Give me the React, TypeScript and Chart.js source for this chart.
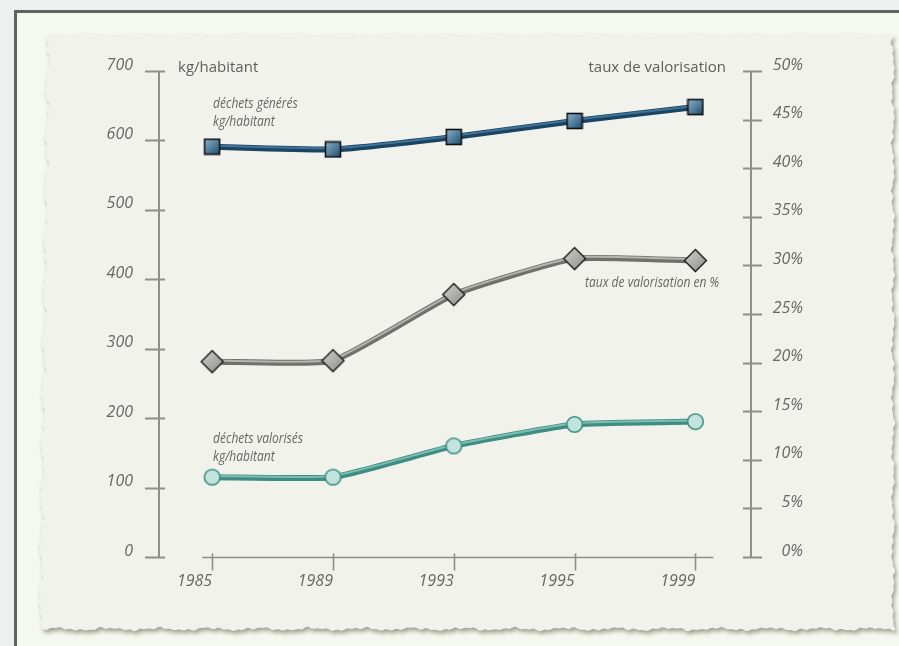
import React, { useEffect, useRef } from 'react';
import { Chart, registerables } from 'chart.js';

Chart.register(...registerables);

// ---- data ----
const years = ['1985', '1989', '1993', '1995', '1999'];
const generatedKg = [591, 587, 605, 628, 648];
const recoveredKg = [115, 115, 160, 191, 195];
const recoveryRate = [20.1, 20.2, 27.0, 30.7, 30.5];
const kgTicks = [0, 100, 200, 300, 400, 500, 600, 700];
const pctTicks = [0, 5, 10, 15, 20, 25, 30, 35, 40, 45, 50];

const leftTitle = 'kg/habitant';
const rightTitle = 'taux de valorisation';
const labelGenerated = ['déchets générés', 'kg/habitant'];
const labelRate = ['taux de valorisation en %'];
const labelRecovered = ['déchets valorisés', 'kg/habitant'];

const FONT = "'Open Sans', 'DejaVu Sans', sans-serif";
const TEXT = '#676765';
const AXIS = '#8e8e8a';

function makeSquare(): HTMLCanvasElement {
  const c = document.createElement('canvas');
  c.width = 18; c.height = 18;
  const g = c.getContext('2d')!;
  const gr = g.createLinearGradient(2, 2, 16, 16);
  gr.addColorStop(0, '#86b0cc');
  gr.addColorStop(1, '#23506f');
  g.fillStyle = gr;
  g.fillRect(1.5, 1.5, 15, 15);
  g.strokeStyle = '#121212';
  g.lineWidth = 1.6;
  g.strokeRect(1.5, 1.5, 15, 15);
  return c;
}

function makeDiamond(): HTMLCanvasElement {
  const c = document.createElement('canvas');
  c.width = 25; c.height = 25;
  const g = c.getContext('2d')!;
  const r = 11;
  const m = 12.5;
  g.beginPath();
  g.moveTo(m, m - r); g.lineTo(m + r, m); g.lineTo(m, m + r); g.lineTo(m - r, m); g.closePath();
  const gr = g.createLinearGradient(m - r, m - r, m + r, m + r);
  gr.addColorStop(0, '#d2d2ce');
  gr.addColorStop(1, '#8c8c88');
  g.fillStyle = gr;
  g.fill();
  g.strokeStyle = '#151515';
  g.lineWidth = 1.4;
  g.stroke();
  return c;
}

function makeCircle(): HTMLCanvasElement {
  const c = document.createElement('canvas');
  c.width = 19; c.height = 19;
  const g = c.getContext('2d')!;
  g.beginPath();
  g.arc(9.5, 9.5, 7.8, 0, Math.PI * 2);
  g.fillStyle = '#c3e3df';
  g.fill();
  g.strokeStyle = '#3a8e81';
  g.lineWidth = 1.6;
  g.stroke();
  return c;
}

function jag(i: number, a: number): number {
  return a * (0.45 * Math.sin(i * 0.37) + 0.3 * Math.sin(i * 1.91 + 1.2) + 0.2 * Math.sin(i * 5.37 + 0.4) + 0.15 * Math.sin(i * 11.3));
}

function paperPath(ctx: CanvasRenderingContext2D, dx: number, dy: number) {
  const L = 48, T = 35, R = 893, B = 629;
  ctx.beginPath();
  let k = 0;
  for (let x = L; x <= R; x += 3) { ctx.lineTo(x + dx, T + jag(k++, 2.2) + dy); }
  for (let y = T; y <= B; y += 3) { ctx.lineTo(R + jag(k++, 2.5) + dx, y + dy); }
  for (let x = R; x >= L - 8; x -= 3) { ctx.lineTo(x + dx, B + jag(k++, 2.5) + dy); }
  for (let y = B; y >= T; y -= 3) {
    const base = L - 8 * ((y - T) / (B - T));
    ctx.lineTo(base + jag(k++, 3) + dx, y + dy);
  }
  ctx.closePath();
}

const decor = {
  id: 'decor',
  beforeDraw(chart: any) {
    const ctx = chart.ctx as CanvasRenderingContext2D;
    ctx.save();
    ctx.fillStyle = '#eef0ef';
    ctx.fillRect(0, 0, chart.width, chart.height);
    ctx.fillStyle = '#f4f8ee';
    ctx.fillRect(15, 11, chart.width, chart.height);
    ctx.strokeStyle = '#5f625d';
    ctx.lineWidth = 3;
    ctx.beginPath();
    ctx.moveTo(15.5, chart.height + 5);
    ctx.lineTo(15.5, 11.5);
    ctx.lineTo(chart.width + 5, 11.5);
    ctx.stroke();
    // paper shadow
    ctx.filter = 'blur(2px)';
    ctx.fillStyle = 'rgba(125,122,105,0.7)';
    paperPath(ctx, 2, 3);
    ctx.fill();
    ctx.filter = 'none';
    ctx.fillStyle = '#f2f2ed';
    paperPath(ctx, 0, 0);
    ctx.fill();
    ctx.restore();
  },
  beforeDatasetsDraw(chart: any) {
    const ctx = chart.ctx as CanvasRenderingContext2D;
    const yl = chart.scales.yKg;
    const yr = chart.scales.yPct;
    const xs = chart.scales.x;
    const lx = yl.right;
    const rx = yr.left;
    const bottom = chart.chartArea.bottom;
    ctx.save();
    ctx.strokeStyle = AXIS;
    ctx.lineWidth = 2;
    ctx.beginPath();
    ctx.moveTo(lx, yl.getPixelForValue(kgTicks[kgTicks.length - 1]));
    ctx.lineTo(lx, yl.getPixelForValue(0));
    kgTicks.forEach((v) => {
      const y = Math.round(yl.getPixelForValue(v)) + 0.5;
      ctx.moveTo(lx - 14, y); ctx.lineTo(lx + 6, y);
    });
    ctx.moveTo(rx, yr.getPixelForValue(pctTicks[pctTicks.length - 1]));
    ctx.lineTo(rx, yr.getPixelForValue(0));
    pctTicks.forEach((v) => {
      const y = Math.round(yr.getPixelForValue(v)) + 0.5;
      ctx.moveTo(rx - 8, y); ctx.lineTo(rx + 11, y);
    });
    ctx.stroke();
    ctx.lineWidth = 1.6;
    ctx.beginPath();
    const by = Math.round(bottom) + 0.5;
    ctx.moveTo(xs.getPixelForValue(0) - 10, by);
    ctx.lineTo(xs.getPixelForValue(years.length - 1) + 18, by);
    years.forEach((_, i) => {
      const x = Math.round(xs.getPixelForValue(i)) + 0.5;
      ctx.moveTo(x, by - 4); ctx.lineTo(x, by + 13);
    });
    ctx.stroke();
    ctx.restore();
  },
  beforeDatasetDraw(chart: any, args: any) {
    const ds = chart.data.datasets[args.index];
    chart.ctx.save();
    if (ds.lift) chart.ctx.translate(0, -1.2);
  },
  afterDatasetDraw(chart: any) {
    chart.ctx.restore();
  },
  afterDraw(chart: any) {
    const ctx = chart.ctx as CanvasRenderingContext2D;
    ctx.save();
    ctx.fillStyle = '#5e5e5c';
    ctx.font = `15px ${FONT}`;
    ctx.textBaseline = 'alphabetic';
    ctx.textAlign = 'left';
    ctx.fillText(leftTitle, 178, 72);
    ctx.textAlign = 'right';
    ctx.fillText(rightTitle, 726, 72);
    ctx.fillStyle = TEXT;
    ctx.font = `italic 14px ${FONT}`;
    ctx.textAlign = 'left';
    const cond = (lines: string[], x: number, y: number, step: number) => {
      lines.forEach((t, i) => {
        ctx.save();
        ctx.translate(x, y + i * step);
        ctx.scale(0.86, 1);
        ctx.fillText(t, 0, 0);
        ctx.restore();
      });
    };
    cond(labelGenerated, 213, 108, 18);
    cond(labelRate, 585, 287, 18);
    cond(labelRecovered, 213, 443, 18);
    ctx.restore();
  },
};

export default function App() {
  const ref = useRef<HTMLCanvasElement | null>(null);
  useEffect(() => {
    if (!ref.current) return;
    const sq = makeSquare();
    const dm = makeDiamond();
    const ci = makeCircle();
    const pts = (arr: number[]) => arr.map((v, i) => ({ x: i, y: v }));
    const lineDs = (data: number[], axis: string, color: string, width: number, lift: boolean, order: number) => ({
      data: pts(data), yAxisID: axis, borderColor: color, borderWidth: width, pointRadius: 0,
      tension: 0.15, fill: false, lift, order, clip: false,
    });
    const pointDs = (data: number[], axis: string, img: HTMLCanvasElement, order: number) => ({
      data: pts(data), yAxisID: axis, showLine: false, pointStyle: img, pointRadius: 9, order, clip: false,
    });
    const tickFont = { family: FONT, size: 16, style: 'italic' };
    const chart = new Chart(ref.current, {
      type: 'line',
      data: {
        datasets: [
          lineDs(generatedKg, 'yKg', '#1a4462', 6, false, 9),
          lineDs(generatedKg, 'yKg', '#41739a', 2, true, 8),
          lineDs(recoveryRate, 'yPct', '#70706c', 6, false, 9),
          lineDs(recoveryRate, 'yPct', '#b4b4b0', 2, true, 8),
          lineDs(recoveredKg, 'yKg', '#3f8d81', 6, false, 9),
          lineDs(recoveredKg, 'yKg', '#7dbeb2', 2, true, 8),
          pointDs(generatedKg, 'yKg', sq, 1),
          pointDs(recoveryRate, 'yPct', dm, 1),
          pointDs(recoveredKg, 'yKg', ci, 1),
        ] as any,
      },
      options: {
        responsive: false,
        animation: false,
        events: [],
        layout: { padding: { top: 71, right: 96, left: 0, bottom: 0 } },
        plugins: { legend: { display: false }, tooltip: { enabled: false } },
        scales: {
          x: {
            type: 'linear',
            min: -0.44,
            max: 4.46,
            grid: { display: false, drawTicks: false },
            border: { display: false },
            afterBuildTicks: (s: any) => { s.ticks = years.map((_, i) => ({ value: i })); },
            afterFit: (s: any) => { s.height = 89; },
            ticks: {
              callback: (v: any) => years[Math.round(Number(v))] ?? '',
              align: 'end',
              padding: 15,
              color: TEXT,
              font: tickFont,
              maxRotation: 0,
            },
          },
          yKg: {
            type: 'linear',
            position: 'left',
            min: 0,
            max: 700,
            grid: { display: false, drawTicks: false },
            border: { display: false },
            afterBuildTicks: (s: any) => { s.ticks = kgTicks.map((v) => ({ value: v })); },
            afterFit: (s: any) => { s.width = 159; },
            ticks: {
              padding: 26,
              labelOffset: -6,
              crossAlign: 'near',
              color: TEXT,
              font: tickFont,
            },
          },
          yPct: {
            type: 'linear',
            position: 'right',
            min: 0,
            max: 50,
            grid: { display: false, drawTicks: false },
            border: { display: false },
            afterBuildTicks: (s: any) => { s.ticks = pctTicks.map((v) => ({ value: v })); },
            afterFit: (s: any) => { s.width = 52; },
            ticks: {
              padding: 10,
              labelOffset: -6,
              crossAlign: 'far',
              color: TEXT,
              font: tickFont,
              callback: (v: any) => `${v}%`,
            },
          },
        },
      },
      plugins: [decor],
    } as any);
    return () => chart.destroy();
  }, []);
  return (
    <div style={{ position: 'fixed', left: 0, top: 0, width: 899, height: 646 }}>
      <canvas ref={ref} width={899} height={646} style={{ display: 'block', width: 899, height: 646 }} />
    </div>
  );
}
